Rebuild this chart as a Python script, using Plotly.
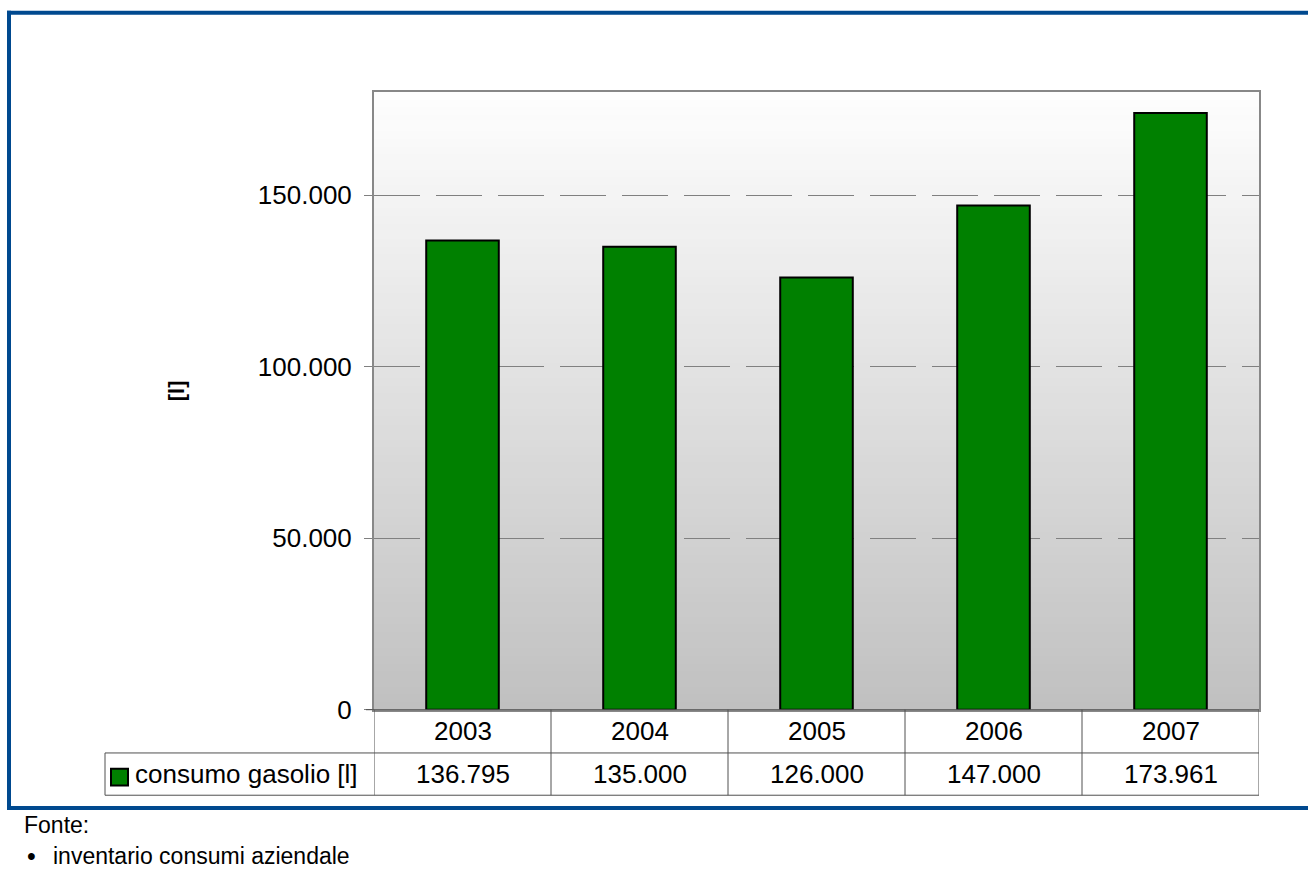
import plotly.graph_objects as go

# Annual diesel consumption in litres
anni = ["2003", "2004", "2005", "2006", "2007"]
consumo_gasolio = [136795, 135000, 126000, 147000, 173961]
serie_nome = "consumo gasolio [l]"
y_ticks = [0, 50000, 100000, 150000]
y_max = 180000

W, H = 1308, 881
BLUE = "#00498F"
GREEN = "#008000"
FONT = "Liberation Sans, Arial, sans-serif"


def px_x(p):
    return p / W


def px_y(p):
    return 1 - p / H


# plot area in pixels
PL, PR, PT, PB = 374, 1259, 94, 722
ROW1, ROW2 = 766, 809  # table row bottoms
LEG_L = 105

fig = go.Figure()

fig.add_trace(go.Bar(
    x=anni,
    y=consumo_gasolio,
    width=0.41,
    marker=dict(color=GREEN, line=dict(color="black", width=2)),
    showlegend=False,
    hoverinfo="x+y",
))

shapes = []

# vertical gradient background (white at top to silver at bottom)
n_bands = 80
for i in range(n_bands):
    t0 = i / n_bands
    t1 = (i + 1) / n_bands
    tm = (t0 + t1) / 2
    c = int(round(192 + (254 - 192) * tm))
    shapes.append(dict(
        type="rect", xref="x domain", yref="y domain",
        x0=0, x1=1, y0=t0, y1=t1 + 0.002,
        fillcolor=f"rgb({c},{c},{c})", line=dict(width=0), layer="below",
    ))

# data table lines
TBL = "#505050"
n = len(anni)
for i in range(n + 1):
    shapes.append(dict(
        type="line", xref="x", yref="paper",
        x0=i - 0.5, x1=i - 0.5, y0=px_y(PB), y1=px_y(ROW2),
        line=dict(color=TBL, width=1), layer="above",
    ))
shapes.append(dict(type="line", xref="paper", yref="paper",
                   x0=px_x(366), x1=px_x(PR), y0=px_y(PB), y1=px_y(PB),
                   line=dict(color=TBL, width=1), layer="above"))
for yy in (ROW1, ROW2):
    shapes.append(dict(type="line", xref="paper", yref="paper",
                       x0=px_x(LEG_L), x1=px_x(PR), y0=px_y(yy), y1=px_y(yy),
                       line=dict(color=TBL, width=1), layer="above"))
shapes.append(dict(type="line", xref="paper", yref="paper",
                   x0=px_x(LEG_L), x1=px_x(LEG_L), y0=px_y(ROW1), y1=px_y(ROW2),
                   line=dict(color=TBL, width=1), layer="above"))

# legend key swatch in the table
shapes.append(dict(type="rect", xref="paper", yref="paper",
                   x0=px_x(111), x1=px_x(128), y0=px_y(799), y1=px_y(782),
                   fillcolor=GREEN, line=dict(color="black", width=2), layer="above"))

# blue frame
shapes.append(dict(type="rect", xref="paper", yref="paper",
                   x0=px_x(7), x1=px_x(W + 5), y0=px_y(11), y1=px_y(15),
                   fillcolor=BLUE, line=dict(width=0), layer="above"))
shapes.append(dict(type="rect", xref="paper", yref="paper",
                   x0=px_x(7), x1=px_x(11), y0=px_y(11), y1=px_y(824),
                   fillcolor=BLUE, line=dict(width=0), layer="above"))
shapes.append(dict(type="rect", xref="paper", yref="paper",
                   x0=px_x(7), x1=px_x(W + 5), y0=px_y(820), y1=px_y(824),
                   fillcolor=BLUE, line=dict(width=0), layer="above"))

annotations = []
row1_c = (PB + ROW1) / 2
row2_c = (ROW1 + ROW2) / 2
for i, (anno, val) in enumerate(zip(anni, consumo_gasolio)):
    annotations.append(dict(
        x=i, xref="x", y=px_y(row1_c), yref="paper",
        text=anno, showarrow=False, xanchor="center", yanchor="middle",
        font=dict(size=26, color="black", family=FONT),
    ))
    annotations.append(dict(
        x=i, xref="x", y=px_y(row2_c), yref="paper",
        text=f"{val:,}".replace(",", "."), showarrow=False,
        xanchor="center", yanchor="middle",
        font=dict(size=26, color="black", family=FONT),
    ))
annotations.append(dict(
    x=px_x(133), xref="paper", y=px_y(row2_c), yref="paper",
    text=serie_nome, showarrow=False, xanchor="left", yanchor="middle",
    font=dict(size=26, color="black", family=FONT),
))

# axis title
annotations.append(dict(
    x=px_x(176), xref="paper", y=px_y(397), yref="paper",
    text="<b>[l]</b>", textangle=-90, showarrow=False,
    xanchor="center", yanchor="middle",
    font=dict(size=22, color="black", family=FONT),
))

# source note
annotations.append(dict(
    x=px_x(22), xref="paper", y=px_y(839), yref="paper",
    text="Fonte:", showarrow=False, xanchor="left", yanchor="middle",
    font=dict(size=23, color="black", family=FONT),
))
annotations.append(dict(
    x=px_x(25), xref="paper", y=px_y(855), yref="paper",
    text="•", showarrow=False, xanchor="left", yanchor="top",
    font=dict(size=25, color="black", family=FONT),
))
annotations.append(dict(
    x=px_x(51), xref="paper", y=px_y(856), yref="paper",
    text="inventario consumi aziendale", showarrow=False,
    xanchor="left", yanchor="top",
    font=dict(size=23, color="black", family=FONT),
))

fig.update_layout(
    width=W, height=H,
    margin=dict(l=0, r=0, t=0, b=0),
    paper_bgcolor="white",
    plot_bgcolor="rgba(0,0,0,0)",
    separators=",.",
    shapes=shapes,
    annotations=annotations,
    font=dict(family=FONT, color="black"),
    xaxis=dict(
        domain=[px_x(PL), px_x(PR)],
        type="category",
        range=[-0.5, n - 0.5],
        showticklabels=False,
        ticks="",
        showgrid=False,
        showline=True, mirror=True, linecolor="#888888", linewidth=2,
        fixedrange=True,
    ),
    yaxis=dict(
        domain=[px_y(PB), px_y(PT)],
        range=[0, y_max],
        tickvals=y_ticks,
        tickformat=",d",
        ticks="outside", ticklen=8, tickcolor="#808080", tickwidth=1,
        ticklabelstandoff=7,
        tickfont=dict(size=26, color="black", family=FONT),
        showgrid=True, gridcolor="#808080", gridwidth=1,
        griddash="46px,16px",
        zeroline=False,
        showline=True, mirror=True, linecolor="#888888", linewidth=2,
        fixedrange=True,
    ),
)

fig.write_html("out.html")
